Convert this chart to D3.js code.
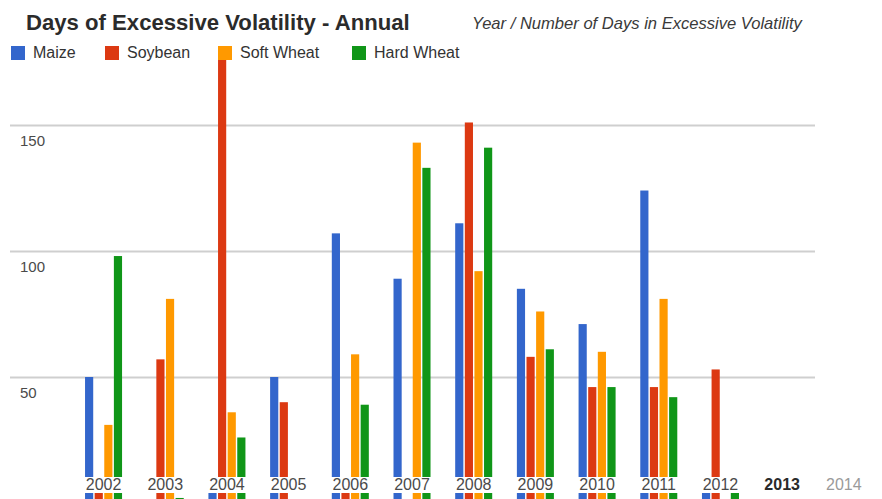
<!DOCTYPE html>
<html>
<head>
<meta charset="utf-8">
<script src="https://cdn.jsdelivr.net/npm/d3@7"></script>
<style>
  html, body { margin: 0; padding: 0; background: #fff; }
  svg { display: block; font-family: "Liberation Sans", Arial, sans-serif; }
</style>
</head>
<body>
<svg id="chart" width="882" height="499"></svg>
<script>
// ---- data ----
const years = ["2002","2003","2004","2005","2006","2007","2008","2009","2010","2011","2012","2013","2014"];
const seriesNames = ["Maize","Soybean","Soft Wheat","Hard Wheat"];
const seriesColors = ["#3366cc","#dc3912","#ff9900","#109618"];
const maize     = [50, 0, 4, 50, 107, 89, 111, 85, 71, 124, 4, 0, 0];
const soybean   = [5, 57, 177, 40, 4, 0, 151, 58, 46, 46, 53, 0, 0];
const softWheat = [31, 81, 36, 0, 59, 143, 92, 76, 60, 81, 0, 0, 0];
const hardWheat = [98, 2, 26, 0, 39, 133, 141, 61, 46, 42, 4, 0, 0];
const yTicks = [50, 100, 150];
const titleText = "Days of Excessive Volatility - Annual";
const subtitleText = "Year / Number of Days in Excessive Volatility";

const seriesValues = [maize, soybean, softWheat, hardWheat];
const rows = years.map((yr, i) => ({
  year: yr,
  values: seriesNames.map((s, k) => ({ series: s, value: seriesValues[k][i], color: seriesColors[k] }))
}));

const svg = d3.select("#chart");

// ---- scales ----
const x0 = d3.scaleBand().domain(years).range([72.7, 874.7]).paddingInner(0.4).paddingOuter(0.2);
const x1 = d3.scaleBand().domain(seriesNames).range([0, x0.bandwidth()]).paddingInner(0.15);
const y = d3.scaleLinear().domain([0, 150]).range([503, 125]);

// ---- gridlines + y labels ----
const yAxis = svg.append("g")
  .attr("transform", "translate(10,0)")
  .call(d3.axisRight(y).tickValues(yTicks).tickSize(805).tickFormat(d3.format("d")));
yAxis.select(".domain").remove();
yAxis.selectAll(".tick line").attr("stroke", "#cfcfcf").attr("stroke-width", 2);
yAxis.selectAll(".tick text")
  .attr("x", 10).attr("dy", 20).attr("text-anchor", "start")
  .attr("font-size", 15).attr("fill", "#4a4a4a")
  .style("font-family", "'Liberation Sans', Arial, sans-serif");

// ---- bars ----
const groups = svg.append("g").selectAll("g")
  .data(rows).join("g")
  .attr("transform", d => `translate(${x0(d.year)},0)`);
groups.selectAll("rect")
  .data(d => d.values.filter(v => v.value > 0))
  .join("rect")
  .attr("x", d => x1(d.series))
  .attr("width", x1.bandwidth())
  .attr("y", d => y(d.value))
  .attr("height", d => y(0) - y(d.value))
  .attr("fill", d => d.color);

// ---- label band + x labels ----
svg.append("rect").attr("x", 60).attr("y", 477).attr("width", 822).attr("height", 16).attr("fill", "#fff");
const xAxis = svg.append("g")
  .attr("transform", "translate(0,490)")
  .call(d3.axisBottom(x0).tickSize(0).tickPadding(0));
xAxis.select(".domain").remove();
xAxis.selectAll(".tick text")
  .attr("dy", 0).attr("y", 0)
  .attr("font-size", 16)
  .style("font-family", "'Liberation Sans', Arial, sans-serif")
  .attr("fill", d => d === "2014" ? "#9a9a9a" : (d === "2013" ? "#2a2a2a" : "#4a4a4a"))
  .attr("font-weight", d => d === "2013" ? "bold" : "normal");

// ---- title & subtitle ----
function fitText(sel, target) {
  const w = sel.node().getComputedTextLength();
  const fs = parseFloat(sel.attr("font-size"));
  sel.attr("font-size", fs * target / w);
}
const title = svg.append("text").attr("x", 26).attr("y", 30)
  .attr("font-size", 19).attr("font-weight", "bold").attr("fill", "#2b2b2b")
  .text(titleText);
fitText(title, 384);
const sub = svg.append("text").attr("x", 472).attr("y", 29)
  .attr("font-size", 14).attr("font-style", "italic").attr("fill", "#3a3a3a")
  .text(subtitleText);
fitText(sub, 330);

// ---- legend ----
const legendStarts = [11, 105, 218, 352];
const legend = svg.append("g");
seriesNames.forEach((s, k) => {
  const g = legend.append("g").attr("transform", `translate(${legendStarts[k]},46)`);
  g.append("rect").attr("width", 14).attr("height", 14).attr("fill", seriesColors[k]);
  g.append("text").attr("x", 22).attr("y", 12).attr("font-size", 16).attr("fill", "#333").text(s);
});
</script>
</body>
</html>
